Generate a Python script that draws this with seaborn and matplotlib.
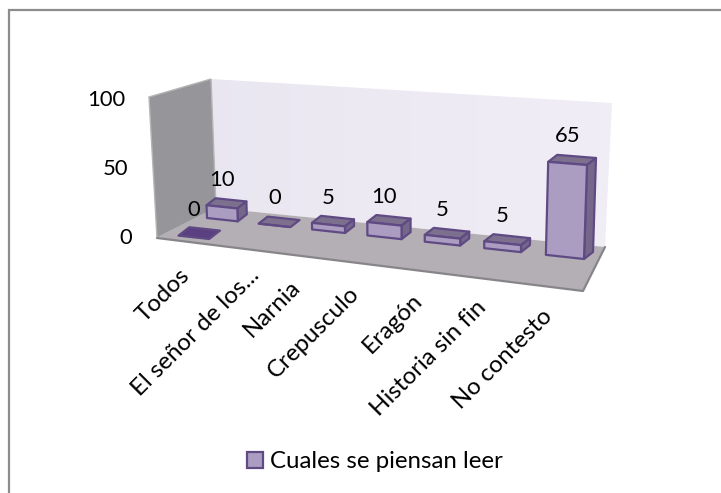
import numpy as np
import matplotlib
matplotlib.use("Agg")
import matplotlib.pyplot as plt
import seaborn as sns
from matplotlib.patches import Polygon, Rectangle
from matplotlib.transforms import Transform, Affine2D, IdentityTransform

# ---- data
categories = ["Todos", "El señor de los...", "Narnia", "Crepusculo", "Eragón", "Historia sin fin", "No contesto"]
values = [10, 0, 5, 10, 5, 5, 65]
front_row_categories = ["Todos"]
front_row_values = [0]
series_name = "Cuales se piensan leer"
y_ticks = [0, 50, 100]

W, H = 721, 493
sns.set_theme(style="white")
plt.rcParams["font.family"] = ["Lato", "DejaVu Sans"]
FS = 17.3
FS_NUM = 15.8
TXT = "#000000"

# ---- projection from (category, value) to the slanted 3D front plane (pixels)
BAR_W = 0.6
src = [(-0.3, 0), (6.3, 0), (6.3, 65), (-0.3, 65)]
dst = [(207, 218), (584, 259), (587, 165), (204, 134)]
A, b = [], []
for (u, v), (x, y) in zip(src, dst):
    A.append([u, v, 1, 0, 0, 0, -u * x, -v * x]); b.append(x)
    A.append([0, 0, 0, u, v, 1, -u * y, -v * y]); b.append(y)
HM = np.append(np.linalg.solve(np.array(A, float), np.array(b, float)), 1).reshape(3, 3)
DEPTH = np.array([9.0, -7.0])


class Plane(Transform):
    input_dims = output_dims = 2
    is_separable = False
    has_inverse = False

    def __init__(self, dz=0.0):
        super().__init__()
        self.dz = dz

    def transform_non_affine(self, pts):
        pts = np.asarray(pts, float)
        hom = np.c_[pts, np.ones(len(pts))] @ HM.T
        xy = hom[:, :2] / hom[:, 2:3] + self.dz * DEPTH
        return np.c_[xy[:, 0], H - xy[:, 1]]


front = Plane(0.0)

PURPLE = "#ab9dc2"
TOP = "#7d6f8e"
SIDE = "#74678a"
EDGE = "#5f4a83"
DARK = "#5b4081"

fig = plt.figure(figsize=(W / 100, H / 100), dpi=100, facecolor="white")


def px_rect(x0, y_top, x1, y_bot):
    return [x0 / W, 1 - y_bot / H, (x1 - x0) / W, (y_bot - y_top) / H]


# ---- axes whose y scale lines up with the value ticks
ax = fig.add_axes(px_rect(140, 97, 600, 238))
ax.patch.set_visible(False)

# ---- frame, walls and floor (decor)
bg = fig.add_axes([0, 0, 1, 1], zorder=-1)
bg.set_xlim(0, W); bg.set_ylim(H, 0); bg.axis("off")
bg.add_patch(Rectangle((9, 10), W + 20, H + 20, fc="white", ec="#8c8c8c", lw=1.6))
n = 60
back = Polygon([(211, 79), (612, 103), (605, 247), (216, 208)], fc="none", ec="none")
bg.add_patch(back)
im = bg.imshow(np.dstack([np.linspace(.915, .945, n)[None, :], np.linspace(.905, .93, n)[None, :], np.linspace(.945, .965, n)[None, :]]),
               extent=(211, 612, 247, 79), aspect="auto", zorder=1)
im.set_clip_path(back)
bg.set_xlim(0, W); bg.set_ylim(H, 0)
bg.add_patch(Polygon([(149, 97), (211, 79), (216, 208), (157, 238)], fc="#96969a", ec="#b5b5b5", lw=1, zorder=2))
bg.add_patch(Polygon([(157, 238), (216, 208), (605, 247), (583, 291)], fc="#b4afb5", ec="none", zorder=2))
bg.plot([157, 583, 605], [238, 291, 247], color="#87858a", lw=1.6, zorder=3)

# ---- bars
sns.barplot(x=categories, y=values, color=PURPLE, saturation=1, width=BAR_W, ax=ax, label=series_name,
            edgecolor=EDGE, linewidth=1.6, legend=False)
bars = list(ax.patches)
for p in bars:
    p.set_transform(front)
    p.set_clip_on(False)
    p.set_zorder(5)
    p.set_joinstyle("round")


def box_faces(c0, c1, v, d0, d1, top_col, side_col):
    fa = Plane(d0).transform(np.array([[c0, v], [c1, v], [c1, 0]], float))
    ba = Plane(d1).transform(np.array([[c0, v], [c1, v], [c1, 0]], float))
    ax.add_patch(Polygon([fa[0], fa[1], ba[1], ba[0]], transform=IdentityTransform(), fc=top_col, ec=EDGE,
                         lw=1.6, clip_on=False, zorder=4, joinstyle="round"))
    if v > 0:
        ax.add_patch(Polygon([fa[1], ba[1], ba[2], fa[2]], transform=IdentityTransform(), fc=side_col, ec=EDGE,
                             lw=1.6, clip_on=False, zorder=4, joinstyle="round"))


for p, val in zip(bars, values):
    box_faces(p.get_x(), p.get_x() + p.get_width(), val, 0, 1, TOP, SIDE)
    ax.annotate(str(val), xy=(p.get_x() + p.get_width() / 2, val), xycoords=front,
                xytext=(0, 27 * 0.72), textcoords="offset points", ha="center", va="center",
                fontsize=FS_NUM, color=TXT, annotation_clip=False)

# front row series, on the same category
FRONT_D0, FRONT_D1 = -2.6, -1.4
FRONT_SHIFT = -0.1
for cat, val in zip(front_row_categories, front_row_values):
    c = categories.index(cat) + FRONT_SHIFT
    c0, c1 = c - BAR_W / 2, c + BAR_W / 2
    box_faces(c0, c1, val, FRONT_D0, FRONT_D1, DARK, DARK)
    ax.annotate(str(val), xy=(c, val), xycoords=Plane(FRONT_D0),
                xytext=(0, 27 * 0.72), textcoords="offset points", ha="center", va="center",
                fontsize=FS_NUM, color=TXT, annotation_clip=False)

# ---- axes
ax.set_ylim(0, 100)
ax.set_yticks(y_ticks)
ax.set_ylabel("")
ax.set_xlabel("")
ax.tick_params(axis="y", length=0, labelsize=FS_NUM, labelcolor=TXT)
ax.tick_params(axis="x", length=0, labelsize=FS, labelcolor=TXT)
sns.despine(ax=ax, left=True, bottom=True)
ax.set_xticks(range(len(categories)), categories)
label_line = Affine2D.from_values(60.2, -7.0, 0, 1, 192, H - 262)
label_dx = [-13, -4, -23, -24, -21, -18, -12]
label_dy = [3, -5, 0, 0, 0, 0, 2]
for lab, dx, dy in zip(ax.get_xticklabels(), label_dx, label_dy):
    lab.set_rotation(45)
    lab.set_rotation_mode("anchor")
    lab.set_ha("right")
    lab.set_va("top")
    lab.set_y(0)
    lab.set_transform(label_line + Affine2D().translate(dx, -dy))
value_line = Affine2D.from_values(1, 0, -0.07, 1.38, 132, H - 238)
for lab in ax.get_yticklabels():
    lab.set_ha("right")
    lab.set_va("center")
    lab.set_x(0)
    lab.set_transform(value_line)

# ---- legend
h = Rectangle((0, 0), 1, 1, fc=PURPLE, ec=EDGE, lw=1.6)
fig.legend([h], [series_name], loc="center", bbox_to_anchor=(375 / W, 1 - 462 / H), frameon=False,
           fontsize=FS, handlelength=0.68, handleheight=0.68, handletextpad=0.3, labelcolor=TXT)

fig.savefig("out.png", dpi=100, facecolor="white")
